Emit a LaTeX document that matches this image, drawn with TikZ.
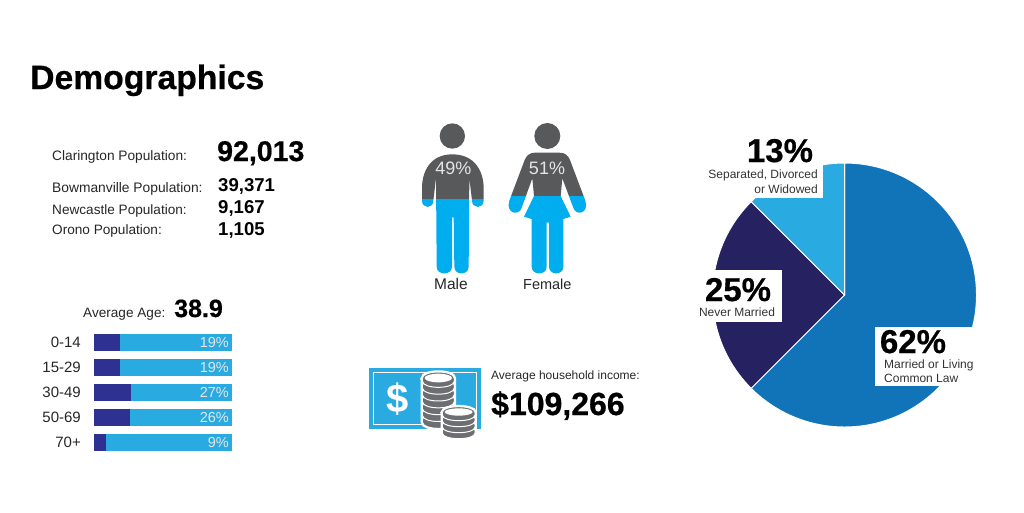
\documentclass[tikz,border=0pt]{standalone}
\usepackage{fontspec}
\setmainfont{Liberation Sans}
\newfontfamily\heavyfont[UprightFont={Liberation Sans Bold},FakeBold=0.6]{Liberation Sans}
\definecolor{figgray}{HTML}{58595B}
\definecolor{figblue}{HTML}{00AEEF}
\definecolor{barblue}{HTML}{29ABE2}
\definecolor{bardark}{HTML}{2E3192}
\definecolor{piemid}{HTML}{1173B8}
\definecolor{pienavy}{HTML}{262262}
\definecolor{coingray}{HTML}{6D6E71}
\tikzset{
  lefttext/.style={anchor=base west, inner sep=0pt, text=black!85, font=\fontsize{#1}{#1}\selectfont},
  boldtext/.style={anchor=base west, inner sep=0pt, font=\fontsize{#1}{#1}\selectfont\bfseries},
  heavytext/.style={anchor=base west, inner sep=0pt, font=\fontsize{#1}{#1}\heavyfont},
  midtext/.style={anchor=base, inner sep=0pt, text=black!85, font=\fontsize{#1}{#1}\selectfont},
  pctbig/.style={anchor=base, inner sep=0pt, font=\fontsize{33}{33}\heavyfont},
  pctsmall/.style={inner sep=0pt, text=black!80, font=\fontsize{12}{12}\selectfont},
  pielabel/.style={fill=white, draw=none}
}
\newcommand{\coinstack}[6]{% centre x, top y, half width, half height, coins below the top one, step
  \filldraw[draw=white, fill=white, line width=3.5pt] (#1-#3,#2) -- (#1-#3,#2+#5*#6+8) .. controls (#1-#3,#2+#5*#6+8+#4*1.33) and (#1+#3,#2+#5*#6+8+#4*1.33) .. (#1+#3,#2+#5*#6+8) -- (#1+#3,#2) .. controls (#1+#3,#2-#4*1.33) and (#1-#3,#2-#4*1.33) .. cycle;
  \foreach \c in {#5,...,0} {
    \filldraw[draw=white, fill=coingray, line width=1pt] (#1-#3,#2+\c*#6) -- (#1-#3,#2+\c*#6+8) .. controls (#1-#3,#2+\c*#6+8+#4*1.33) and (#1+#3,#2+\c*#6+8+#4*1.33) .. (#1+#3,#2+\c*#6+8) -- (#1+#3,#2+\c*#6) .. controls (#1+#3,#2+\c*#6-#4*1.33) and (#1-#3,#2+\c*#6-#4*1.33) .. cycle;
  }
  \fill[white] (#1,#2-1) ellipse ({#3-7} and {#4-6});
}
\begin{document}
\begin{tikzpicture}[x=1pt, y=-1pt]
  \useasboundingbox (0,0) rectangle (1024,512);

  \node[heavytext=33.7] (title) at (30,89) {Demographics};

  % population
  \node[lefttext=13.7] (clarington) at (52,160) {Clarington Population:};
  \node[heavytext=28.5] (claringtonnum) at (217,161) {92,013};
  \node[lefttext=13.8] (bowmanville) at (52,192) {Bowmanville Population:};
  \node[boldtext=18.6] (bowmanvillenum) at (218,191) {39,371};
  \node[lefttext=13.6] (newcastle) at (52,214) {Newcastle Population:};
  \node[boldtext=18.6] (newcastlenum) at (218,213) {9,167};
  \node[lefttext=13.6] (orono) at (52,234) {Orono Population:};
  \node[boldtext=18.6] (orononum) at (218,235) {1,105};

  % age bars
  \node[lefttext=13.6] (avgage) at (83,317) {Average Age:};
  \node[heavytext=25] (avgagenum) at (174,317) {38.9};
  \foreach \y/\dk/\lab/\pct [count=\i] in {342/120/0-14/19, 367/120/15-29/19, 392/131/30-49/27, 417/130/50-69/26, 442/106/70+/9} {
    \fill[barblue] (93.5,\y-8.5) rectangle (232,\y+8.5);
    \fill[bardark] (93.5,\y-8.5) rectangle (\dk,\y+8.5);
    \node[midtext=15, anchor=base east] (age\i) at (81,\y+5) {\lab};
    \node[midtext=14.5, anchor=base east, text=white!90!black] (pct\i) at (229,\y+5) {\pct\%};
  }

  % male
  \begin{scope}[shift={(400,110)}, scale=1/3]
    \fill[figgray] (157,78) circle (38);
    \begin{scope}
      \clip (157,133) .. controls (225,133) and (251,185) .. (251,235) -- (251,272)
        .. controls (251,297) and (216,297) .. (216,272) -- (208,204) -- (206,470)
        .. controls (206,497) and (163,497) .. (163,470) -- (161,322) -- (156,322) -- (156,470)
        .. controls (156,497) and (110,497) .. (110,470) -- (108,204) -- (100,272)
        .. controls (100,297) and (66,297) .. (66,272) -- (66,235) .. controls (66,185) and (90,133) .. (157,133) -- cycle;
      \fill[figblue] (50,268) rectangle (270,500);
      \fill[figgray] (50,120) rectangle (270,268);
    \end{scope}
    \node[midtext=18, text=white!90!black] (malepct) at (160,192) {49\%};
    \node[midtext=15.5] (malelabel) at (153,537) {Male};
  \end{scope}

  % female
  \begin{scope}[shift={(400,110)}, scale=1/3]
    \fill[figgray] (442,78) circle (39);
    \begin{scope}
      \clip (405,128) -- (478,128) .. controls (495,128) and (504,136) .. (510,150) -- (556,272)
        .. controls (568,310) and (530,318) .. (521,296) -- (487,205) -- (482,258) -- (512,320) -- (490,327) -- (490,470)
        .. controls (490,497) and (447,497) .. (447,470) -- (447,338) -- (440,338) -- (440,470)
        .. controls (440,497) and (395,497) .. (395,470) -- (395,327) -- (372,320) -- (402,258) -- (397,205) -- (364,296)
        .. controls (355,318) and (316,310) .. (328,272) -- (374,150) .. controls (380,136) and (389,128) .. (405,128) -- cycle;
      \fill[figblue] (310,258) rectangle (580,500);
      \fill[figgray] (310,120) rectangle (580,258);
    \end{scope}
    \node[midtext=18, text=white!90!black] (femalepct) at (441,192) {51\%};
    \node[midtext=14.5] (femalelabel) at (442,537) {Female};
  \end{scope}

  % income
  \begin{scope}[shift={(360,355)}, scale=1/3]
    \fill[barblue] (27,40) rectangle (362,222);
    \draw[white, line width=1pt] (40,53) rectangle (350,208);
    \node[inner sep=0pt, text=white, font=\fontsize{40}{40}\selectfont\bfseries] (dollar) at (112,133) {\$};
    \coinstack{235}{70}{48}{19}{6}{20.5}
    \coinstack{296}{172}{49}{17}{3}{18}
  \end{scope}
  \node[lefttext=12] (income) at (491,379) {Average household income:};
  \node[heavytext=32] (incomenum) at (491,415) {\$109,266};

  % marital status
  \coordinate (piec) at (844.5,295);
  \begin{scope}[shift={(piec)}, x=1pt, y=1pt, draw=white, line width=1pt]
    \filldraw[fill=piemid] (0,0) -- (0,132) arc (90:-135:132pt) -- cycle;
    \filldraw[fill=pienavy] (0,0) -- (225:132pt) arc (225:135:132pt) -- cycle;
    \filldraw[fill=barblue] (0,0) -- (135:132pt) arc (135:90:132pt) -- cycle;
  \end{scope}
  \fill[pielabel] (702,138) rectangle (823,198);
  \fill[pielabel] (690,270) rectangle (782,322);
  \fill[pielabel] (875,327) rectangle (975,386);
  \node[pctbig] (pctsep) at (780,162) {13\%};
  \node[pctsmall, anchor=base east] (sepa) at (818,178) {Separated, Divorced};
  \node[pctsmall, anchor=base east] (sepb) at (818,193) {or Widowed};
  \node[pctbig] (pctnever) at (738,301) {25\%};
  \node[pctsmall, anchor=base] (never) at (737,316) {Never Married};
  \node[pctbig] (pctmarried) at (913,353) {62\%};
  \node[pctsmall, anchor=base west] (marrieda) at (884,368) {Married or Living};
  \node[pctsmall, anchor=base west] (marriedb) at (884,382) {Common Law};
\end{tikzpicture}
\end{document}
